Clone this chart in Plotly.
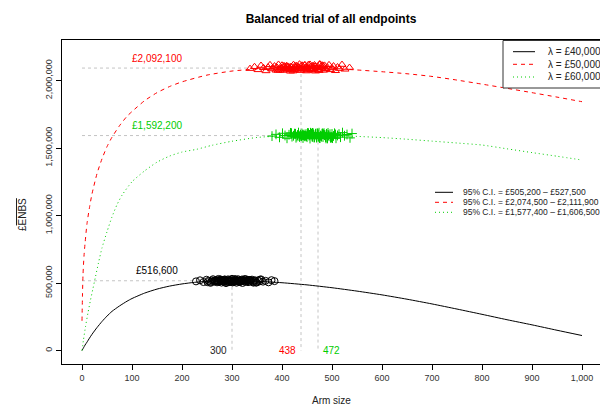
import plotly.graph_objects as go

# ---------------- data ----------------
lambdas = ["£40,000", "£50,000", "£60,000"]
ci_text = ["£505,200 – £527,500", "£2,074,500 – £2,111,900", "£1,577,400 – £1,606,500"]
opt_n = [300, 438, 472]
max_enbs = [516600, 2092100, 1592200]
max_labels = ["£516,600", "£2,092,100", "£1,592,200"]

black_n = [0, 3, 6, 10, 15, 20, 30, 40, 50, 60, 75, 90, 100, 125, 150, 175, 200, 225, 250, 275,
           300, 325, 350, 400, 450, 500, 550, 600, 650, 700, 750, 800, 850, 900, 950, 1000]
black_v = [0, 20, 40, 62, 92, 120, 170, 215, 255, 290, 330, 365, 385, 425, 455, 477, 493, 505, 512, 515.5,
           516.6, 515.5, 512.5, 502, 486, 465, 440, 412, 380, 345, 307, 268, 228, 190, 150, 111]

red_n = [0, 1, 2, 4, 6, 10, 15, 20, 30, 40, 50, 60, 75, 90, 100, 125, 150, 175, 200, 250,
         300, 350, 400, 438, 500, 550, 600, 650, 700, 750, 800, 850, 900, 950, 1000]
red_v = [220, 420, 560, 700, 790, 940, 1060, 1160, 1310, 1420, 1510, 1580, 1665, 1735, 1770, 1850, 1910, 1955, 1990, 2040,
         2070, 2085, 2091, 2092.1, 2088, 2078, 2065, 2050, 2030, 2003, 1973, 1942, 1910, 1877, 1843]

green_n = [0, 3, 7, 12, 17, 22, 27, 33, 40, 50, 60, 70, 80, 100, 125, 150, 175, 200, 229, 260,
           300, 350, 400, 472, 500, 550, 600, 650, 700, 750, 800, 850, 900, 950, 1000]
green_v = [0, 80, 176, 280, 374, 460, 547, 650, 760, 880, 990, 1080, 1150, 1250, 1330, 1395, 1440, 1470, 1490, 1520,
           1550, 1578, 1589, 1592.2, 1591, 1586, 1577, 1565, 1551, 1537, 1522, 1494, 1466, 1439, 1411]

cloud_black_n = [228, 236, 243, 249, 253, 257, 260, 262, 264, 266, 268, 270, 271, 273, 274, 276, 277, 279, 280, 282,
                 283, 284, 286, 287, 288, 290, 291, 292, 294, 295, 296, 298, 299, 300, 301, 303, 304, 305, 307, 308,
                 309, 311, 312, 313, 315, 316, 317, 319, 320, 321, 323, 324, 326, 327, 329, 330, 332, 334, 336, 338,
                 340, 342, 344, 346, 349, 352, 355, 358, 362, 367, 373, 379, 385, 265, 278, 289, 297, 306, 314, 322,
                 331, 343, 269, 285, 302, 318, 335, 251, 293, 310, 325, 348, 272, 281, 299, 328, 356, 258, 304, 337]
cloud_black_v = [512, 520, 507, 524, 516, 501, 519, 528, 510, 515, 522, 505, 517, 530, 509, 513, 526, 503, 518, 511,
                 521, 508, 525, 514, 499, 519, 512, 527, 506, 516, 523, 510, 518, 531, 504, 514, 520, 509, 524, 515,
                 502, 517, 528, 511, 519, 507, 522, 513, 526, 500, 516, 521, 509, 529, 514, 518, 506, 523, 511, 517,
                 525, 508, 515, 520, 503, 519, 512, 527, 510, 516, 505, 521, 514, 518, 524, 507, 513, 529, 511, 516,
                 520, 502, 517, 526, 509, 515, 522, 506, 519, 512, 528, 504, 516, 521, 510, 518, 525, 508, 514, 520]

cloud_red_n = [336, 345, 352, 358, 363, 368, 372, 376, 379, 382, 385, 388, 390, 393, 395, 398, 400, 402, 405, 407,
               409, 411, 413, 415, 417, 419, 421, 423, 425, 427, 429, 431, 433, 435, 437, 439, 441, 443, 445, 447,
               449, 451, 453, 455, 457, 459, 461, 463, 465, 467, 469, 471, 473, 476, 478, 480, 483, 485, 488, 491,
               494, 497, 500, 503, 507, 511, 515, 520, 526, 535, 392, 404, 416, 428, 440, 452, 464, 475, 487, 399,
               410, 422, 434, 446, 458, 470, 482, 396, 418, 438, 456, 474, 408, 426, 444, 462, 480, 420, 450, 466]
cloud_red_v = [2088, 2102, 2079, 2111, 2094, 2071, 2099, 2116, 2085, 2092, 2107, 2076, 2097, 2119, 2083, 2090, 2113, 2074, 2101, 2087,
               2109, 2081, 2104, 2093, 2068, 2098, 2086, 2117, 2078, 2095, 2110, 2084, 2100, 2121, 2073, 2091, 2106, 2082, 2114, 2096,
               2070, 2099, 2118, 2087, 2103, 2077, 2108, 2089, 2115, 2069, 2094, 2105, 2080, 2120, 2092, 2101, 2075, 2112, 2086, 2097,
               2116, 2079, 2093, 2107, 2072, 2100, 2088, 2118, 2083, 2096, 2074, 2109, 2091, 2102, 2113, 2077, 2089, 2121, 2085, 2095,
               2106, 2070, 2098, 2115, 2081, 2093, 2110, 2076, 2103, 2087, 2119, 2073, 2096, 2108, 2084, 2101, 2114, 2078, 2092, 2105]

cloud_green_n = [380, 388, 395, 401, 406, 410, 414, 417, 420, 423, 426, 428, 431, 433, 435, 438, 440, 442, 444, 446,
                 448, 450, 452, 454, 456, 458, 460, 462, 464, 466, 468, 470, 472, 474, 476, 478, 480, 482, 484, 486,
                 488, 490, 492, 494, 496, 498, 500, 503, 505, 508, 511, 514, 517, 521, 525, 530, 536, 540, 430, 441,
                 453, 465, 477, 489, 501, 437, 449, 461, 473, 485, 497, 425, 445, 463, 481, 499, 434, 457, 479, 443,
                 467, 491, 455, 471, 487, 447, 459, 469, 483, 439, 451, 475, 493, 427, 461, 507, 419, 488, 436, 472]
cloud_green_v = [1588, 1601, 1579, 1609, 1593, 1572, 1598, 1612, 1584, 1591, 1605, 1576, 1596, 1614, 1582, 1589, 1607, 1574, 1600, 1586,
                 1603, 1580, 1604, 1592, 1570, 1597, 1585, 1611, 1578, 1594, 1608, 1583, 1599, 1613, 1573, 1590, 1606, 1581, 1610, 1595,
                 1571, 1598, 1612, 1587, 1602, 1577, 1604, 1589, 1609, 1572, 1593, 1603, 1580, 1614, 1591, 1600, 1575, 1607, 1586, 1596,
                 1610, 1579, 1592, 1605, 1573, 1599, 1588, 1612, 1583, 1595, 1576, 1606, 1590, 1601, 1608, 1578, 1589, 1613, 1584, 1594,
                 1604, 1571, 1597, 1609, 1581, 1592, 1607, 1577, 1602, 1587, 1611, 1574, 1595, 1605, 1583, 1600, 1610, 1579, 1591, 1603]

x_ticks = [0, 100, 200, 300, 400, 500, 600, 700, 800, 900, 1000]
x_ticktext = ["0", "100", "200", "300", "400", "500", "600", "700", "800", "900", "1,000"]
y_ticks = [0, 500000, 1000000, 1500000, 2000000]
y_ticktext = ["0", "500,000", "1,000,000", "1,500,000", "2,000,000"]

# ---------------- styles ----------------
colors = ["#000000", "#FF0000", "#00CD00"]
dashes = ["solid", "4px,4px", "1px,3px"]
symbols = ["circle-open", "triangle-up-open", "cross-thin-open"]
FONT = "Liberation Sans, Arial, Helvetica, sans-serif"
GRAY = "#C4C4C4"

FW, FH = 600, 408
S_L, S_R, S_T, S_B = 62, 600, 40, 364   # plot area in pixels

fig = go.Figure()

curves = [(black_n, black_v), (red_n, red_v), (green_n, green_v)]
clouds = [(cloud_black_n, cloud_black_v), (cloud_red_n, cloud_red_v), (cloud_green_n, cloud_green_v)]

for i in range(3):
    fig.add_trace(go.Scatter(x=[0, opt_n[i]], y=[max_enbs[i], max_enbs[i]], mode="lines",
                             line=dict(color=GRAY, width=1, dash="3px,3px"), hoverinfo="skip", showlegend=False))
    fig.add_trace(go.Scatter(x=[opt_n[i], opt_n[i]], y=[max_enbs[i], 0], mode="lines",
                             line=dict(color=GRAY, width=1, dash="3px,3px"), hoverinfo="skip", showlegend=False))

for i in range(3):
    xs, ys = curves[i]
    fig.add_trace(go.Scatter(x=xs, y=[v * 1000 for v in ys], mode="lines",
                             line=dict(color=colors[i], width=1, dash=dashes[i], shape="spline", smoothing=0.6),
                             showlegend=False))

for i in range(3):
    xs, ys = clouds[i]
    fig.add_trace(go.Scatter(x=xs, y=[v * 1000 for v in ys], mode="markers",
                             marker=dict(symbol=symbols[i], size=7, color=colors[i], line=dict(width=1, color=colors[i])),
                             showlegend=False))

ann = []
for i in range(3):
    ann.append(dict(x=150, y=max_enbs[i], xref="x", yref="y", text=max_labels[i], showarrow=False,
                    xanchor="center", yanchor="middle", yshift=10, font=dict(family=FONT, size=10, color=colors[i])))
ann.append(dict(x=opt_n[0], y=0, xref="x", yref="y", text=str(opt_n[0]), showarrow=False, xanchor="right",
                yanchor="middle", xshift=-3, font=dict(family=FONT, size=10, color="#222")))
ann.append(dict(x=opt_n[1], y=0, xref="x", yref="y", text=str(opt_n[1]), showarrow=False, xanchor="right",
                yanchor="middle", xshift=-3, font=dict(family=FONT, size=10, color=colors[1])))
ann.append(dict(x=opt_n[2], y=0, xref="x", yref="y", text=str(opt_n[2]), showarrow=False, xanchor="left",
                yanchor="middle", xshift=3, font=dict(family=FONT, size=10, color=colors[2])))


def px(xs):
    return (xs - S_L) / (S_R - S_L)


def py(ys):
    return (S_B - ys) / (S_B - S_T)


shapes = []
shapes.append(dict(type="rect", xref="paper", yref="paper", x0=px(503), x1=px(640), y0=py(88), y1=py(40.5),
                   line=dict(color="#333", width=1), fillcolor="white", layer="above"))
rows1 = [51.7, 64.3, 77]
for i in range(3):
    shapes.append(dict(type="line", xref="paper", yref="paper", x0=px(513), x1=px(535), y0=py(rows1[i]), y1=py(rows1[i]),
                       line=dict(color=colors[i], width=1, dash=dashes[i]), layer="above"))
    ann.append(dict(x=px(546), y=py(rows1[i]), xref="paper", yref="paper", xanchor="left", yanchor="middle",
                    text="λ = " + lambdas[i], showarrow=False, font=dict(family=FONT, size=10, color="#222")))
rows2 = [192.3, 202.3, 212.3]
for i in range(3):
    shapes.append(dict(type="line", xref="paper", yref="paper", x0=px(435), x1=px(453), y0=py(rows2[i]), y1=py(rows2[i]),
                       line=dict(color=colors[i], width=1, dash=dashes[i]), layer="above"))
    ann.append(dict(x=px(461), y=py(rows2[i]), xref="paper", yref="paper", xanchor="left", yanchor="middle",
                    text="95% C.I. = " + ci_text[i], showarrow=False, font=dict(family=FONT, size=8.5, color="#222")))

ann.append(dict(x=px(22), y=py(215), xref="paper", yref="paper", textangle=-90, showarrow=False,
                xanchor="center", yanchor="middle",
                text="£<span style='text-decoration:overline'>ENBS</span>",
                font=dict(family=FONT, size=10, color="#222")))
ann.append(dict(x=px(331), y=py(400), xref="paper", yref="paper", showarrow=False, text="Arm size",
                xanchor="center", yanchor="middle", font=dict(family=FONT, size=10, color="#222")))

fig.update_layout(
    width=FW, height=FH,
    margin=dict(l=S_L, r=FW - S_R, t=S_T, b=FH - S_B, autoexpand=False),
    paper_bgcolor="white", plot_bgcolor="white",
    title=dict(text="<b>Balanced trial of all endpoints</b>", x=px(331), xref="paper", y=1 - 19 / FH,
               xanchor="center", yanchor="middle", font=dict(family=FONT, size=12, color="#000")),
    xaxis=dict(range=[-40, 1036], tickvals=x_ticks, ticktext=x_ticktext, showgrid=False, zeroline=False,
               automargin=False,
               showline=True, mirror=True, linecolor="black", linewidth=1, ticks="outside", ticklen=5,
               tickcolor="black", tickfont=dict(family=FONT, size=9, color="#333")),
    yaxis=dict(range=[-100000, 2300000], tickvals=y_ticks, ticktext=y_ticktext, showgrid=False, zeroline=False,
               automargin=False,
               showline=True, linecolor="black", linewidth=1, ticks="outside", ticklen=5, tickangle=-90,
               tickcolor="black", tickfont=dict(family=FONT, size=9, color="#333")),
    annotations=ann, shapes=shapes, showlegend=False,
)

fig.write_html("out.html", config={"displayModeBar": False},
               post_script="document.body.style.margin='0';document.body.style.overflow='hidden';")
